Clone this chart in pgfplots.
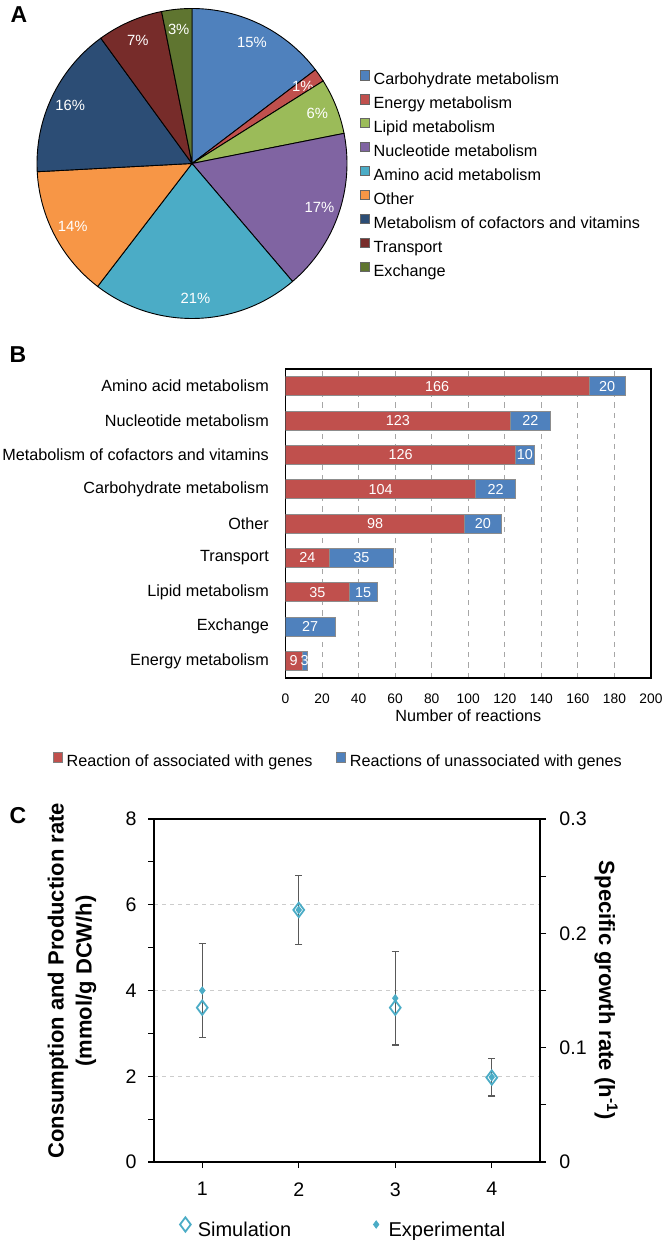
\documentclass[border=0pt]{standalone}
\usepackage{fontspec}
\setmainfont{Liberation Sans}
\usepackage{pgfplots}
\pgfplotsset{compat=1.18}
\usepackage{pgfplotstable}

\definecolor{cCarb}{HTML}{4F81BD}
\definecolor{cEner}{HTML}{C0504D}
\definecolor{cLip}{HTML}{9BBB59}
\definecolor{cNuc}{HTML}{8064A2}
\definecolor{cAmi}{HTML}{4BACC6}
\definecolor{cOth}{HTML}{F79646}
\definecolor{cCof}{HTML}{2C4D75}
\definecolor{cTra}{HTML}{772C2A}
\definecolor{cExc}{HTML}{5F7530}
\definecolor{errgray}{HTML}{595959}

\pgfplotsset{
  markleg/.style={legend image code/.code={\path (0pt,0pt) (7pt,0pt); \draw[##1] plot coordinates {(3.5pt,3.5pt)};}},
}

% Panel B: reactions per subsystem (y: 0 = bottom row)
\pgfplotstableread{
y assoc unassoc
0 9   3
1 0   27
2 35  15
3 24  35
4 98  20
5 104 22
6 126 10
7 123 22
8 166 20
}\bardata

% Panel B: in-bar value labels (centre of each segment)
\pgfplotstableread{
x y lbl
4.5 0 9
10.5 0 3
13.5 1 27
17.5 2 35
42.5 2 15
12 3 24
41.5 3 35
49 4 98
108 4 20
52 5 104
115 5 22
63 6 126
131 6 10
61.5 7 123
134 7 22
83 8 166
176 8 20
}\barlabels

% Panel C
\pgfplotstableread{
x sim
1 3.6
2 5.88
3 3.6
4 1.97
}\simdata
\pgfplotstableread{
x exp err
1 4.0 1.1
2 5.88 0.8
3 3.82 1.09
4 1.98 0.44
}\expdata

\newcommand{\fs}[1]{\fontsize{#1}{#1}\selectfont}

\begin{document}
\begin{tikzpicture}
\path[use as bounding box] (0,0) rectangle (333pt,-620pt);

\node[font=\fontsize{11.5}{12}\bfseries\selectfont, anchor=center] at (9.5pt,-7.5pt) {A};
\node[font=\fontsize{11.5}{12}\bfseries\selectfont, anchor=center] at (9pt,-177.25pt) {B};
\node[font=\fontsize{11.5}{12}\bfseries\selectfont, anchor=center] at (9pt,-408pt) {C};

% ---------------- Panel A : pie ----------------
\begin{axis}[
  at={(96pt,-81.75pt)}, anchor=center,
  hide axis, scale only axis, clip=false,
  width=155pt, height=155pt,
  xmin=-1, xmax=1, ymin=-1, ymax=1,
  legend image code/.code={\draw[#1, draw=black!60, line width=0.3pt] (0pt,0.3pt) rectangle (4.6pt,4.9pt);},
  legend cell align=left,
  legend style={at={(axis description cs:1.0419,0.8003)}, anchor=north west,
    draw=none, fill=none, inner sep=0pt, outer sep=0pt,
    font=\fs{8.1}, row sep=2.9pt,
    nodes={inner sep=0pt, text height=6.2pt, text depth=1.8pt},
    /tikz/every odd column/.append style={column sep=1.9pt}},
]
\xdef\cum{0}
\foreach \v/\p/\c in {126/15/cCarb, 12/1/cEner, 50/6/cLip, 145/17/cNuc, 186/21/cAmi, 118/14/cOth, 136/16/cCof, 59/7/cTra, 27/3/cExc}{
  \pgfmathsetmacro{\a}{90-(\cum/859)*360}
  \pgfmathsetmacro{\b}{90-((\cum+\v)/859)*360}
  \pgfmathsetmacro{\m}{(\a+\b)/2}
  \pgfmathsetmacro{\lx}{0.87*cos(\m)}
  \pgfmathsetmacro{\ly}{0.87*sin(\m)}
  \pgfmathsetmacro{\sx}{cos(\a)}
  \pgfmathsetmacro{\sy}{sin(\a)}
  \edef\temp{\noexpand\filldraw[fill=\c, draw=black, line width=0.45pt] (axis cs:0,0) -- (axis cs:\sx,\sy) arc[start angle=\a, end angle=\b, radius=77.5pt] -- cycle;
    \noexpand\node[text=white, font=\noexpand\fs{7.4}, anchor=center] at (axis cs:\lx,\ly) {\p\noexpand\%};}
  \temp
  \pgfmathsetmacro{\newcum}{\cum+\v}
  \xdef\cum{\newcum}
}
\addlegendimage{fill=cCarb}
\addlegendimage{fill=cEner}
\addlegendimage{fill=cLip}
\addlegendimage{fill=cNuc}
\addlegendimage{fill=cAmi}
\addlegendimage{fill=cOth}
\addlegendimage{fill=cCof}
\addlegendimage{fill=cTra}
\addlegendimage{fill=cExc}
\legend{Carbohydrate metabolism, Energy metabolism, Lipid metabolism, Nucleotide metabolism, Amino acid metabolism, Other, Metabolism of cofactors and vitamins, Transport, Exchange}
\end{axis}

% ---------------- Panel B : stacked bars ----------------
\begin{axis}[
  at={(142.75pt,-339pt)}, anchor=south west,
  scale only axis, width=182.75pt, height=154.5pt,
  xbar stacked, bar width=9.5pt,
  xmin=0, xmax=200, ymin=-0.5, ymax=8.5,
  xtick={0,20,...,200}, ytick={0,...,8},
  yticklabels={Energy metabolism, Exchange, Lipid metabolism, Transport, Other, Carbohydrate metabolism, Metabolism of cofactors and vitamins, Nucleotide metabolism, Amino acid metabolism},
  major tick length=0pt,
  xmajorgrids, grid style={gray!70, line width=0.45pt, dash pattern=on 2.6pt off 2.6pt},
  axis line style={black, line width=0.65pt},
  /pgf/number format/assume math mode=true,
  xticklabel style={font=\fs{6.9}, yshift=-4.3pt},
  yticklabel style={font=\fs{8.1}, xshift=-4.8pt},
  xlabel={Number of reactions},
  xlabel style={at={(axis description cs:0.5,0)}, anchor=center, yshift=-19pt, font=\fs{8.1}},
  legend columns=2, legend cell align=left,
  legend style={at={(axis description cs:-0.6361,-0.270)}, anchor=west,
    draw=none, fill=none, inner sep=0pt, outer sep=0pt, font=\fs{8.1},
    nodes={inner sep=0pt, text height=6.2pt, text depth=1.8pt},
    /tikz/every odd column/.append style={column sep=1.9pt},
    /tikz/every even column/.append style={column sep=11.9pt}},
]
\addplot[fill=cEner, draw=black!45, line width=0.3pt,
  legend image code/.code={\draw[fill=cEner, draw=black!50, line width=0.3pt] (0pt,0.3pt) rectangle (4.6pt,4.9pt);}]
  table[x=assoc, y=y] {\bardata};
\addplot[fill=cCarb, draw=black!45, line width=0.3pt,
  legend image code/.code={\draw[fill=cCarb, draw=black!50, line width=0.3pt] (0pt,0.3pt) rectangle (4.6pt,4.9pt);}]
  table[x=unassoc, y=y] {\bardata};
\legend{Reaction of associated with genes, Reactions of unassociated with genes}
\end{axis}

% value labels inside bars
\begin{axis}[
  at={(142.75pt,-339pt)}, anchor=south west,
  scale only axis, width=182.75pt, height=154.5pt,
  xmin=0, xmax=200, ymin=-0.5, ymax=8.5, hide axis,
]
\addplot[draw=none, mark=none, nodes near coords, point meta=explicit symbolic,
  every node near coord/.append style={anchor=center, text=white, font=\fs{7.2}, inner sep=0pt}]
  table[x=x, y=y, meta=lbl] {\barlabels};
\end{axis}

% ---------------- Panel C : dual axis ----------------
\begin{axis}[
  at={(77pt,-581pt)}, anchor=south west,
  scale only axis, width=193pt, height=171.5pt,
  xmin=0.5, xmax=4.5, ymin=0, ymax=8,
  xtick={1,2,3,4}, ytick={0,2,4,6,8}, minor ytick={1,3,5,7},
  tick pos=left, tick align=outside,
  major tick length=3pt, minor tick length=3pt,
  every tick/.style={black, line width=0.6pt},
  minor tick style={black, line width=0.6pt},
  axis line style={black, line width=0.6pt},
  ymajorgrids, grid style={gray!40, line width=0.45pt, dash pattern=on 2pt off 2pt},
  /pgf/number format/assume math mode=true,
  ticklabel style={font=\fs{9.8}},
  yticklabel style={xshift=-2.2pt},
  xticklabel style={yshift=-3.7pt},
  ylabel={Consumption and Production rate\\(mmol/g DCW/h)},
  ylabel style={at={(axis description cs:-0.2124,0.528)}, anchor=center, align=center, font=\fontsize{11}{14}\bfseries\selectfont},
  legend columns=2, legend cell align=left,
  legend style={at={(axis description cs:0.0622,-0.1953)}, anchor=west,
    draw=none, fill=none, inner sep=0pt, outer sep=0pt, font=\fs{10},
    nodes={inner sep=0pt, text height=7.2pt, text depth=2pt},
    /tikz/every odd column/.append style={column sep=2.5pt},
    /tikz/every even column/.append style={column sep=38.8pt}},
]
\addplot[only marks, mark=diamond, mark size=3.6pt, mark options={draw=cAmi, fill=none, line width=0.9pt}, markleg]
  table[x=x, y=sim] {\simdata};
\addlegendentry{Simulation}
\addplot[only marks, mark=diamond*, mark size=1.8pt, color=cAmi, markleg,
  error bars/.cd, y dir=both, y explicit,
  error bar style={errgray, line width=0.7pt},
  error mark options={rotate=90, errgray, line width=0.7pt, mark size=1.8pt}]
  table[x=x, y=exp, y error=err] {\expdata};
\addlegendentry{Experimental}
\end{axis}

\begin{axis}[
  at={(77pt,-581pt)}, anchor=south west,
  scale only axis, width=193pt, height=171.5pt,
  xmin=0.5, xmax=4.5, ymin=0, ymax=0.3,
  axis x line=none, axis y line*=right,
  ytick={0,0.1,0.2,0.3}, yticklabels={0,0.1,0.2,0.3},
  minor ytick={0.05,0.15,0.25},
  tick align=outside, major tick length=3pt, minor tick length=3pt,
  every tick/.style={black, line width=0.6pt},
  minor tick style={black, line width=0.6pt},
  axis line style={black, line width=0.6pt},
  yticklabel style={font=\fs{9.8}, xshift=3.2pt},
  ylabel={Specific growth rate (h\textsuperscript{-1})},
  ylabel style={at={(axis description cs:1.171,0.5)}, anchor=center, rotate=180, font=\fontsize{11}{14}\bfseries\selectfont},
]
\end{axis}

\end{tikzpicture}
\end{document}
